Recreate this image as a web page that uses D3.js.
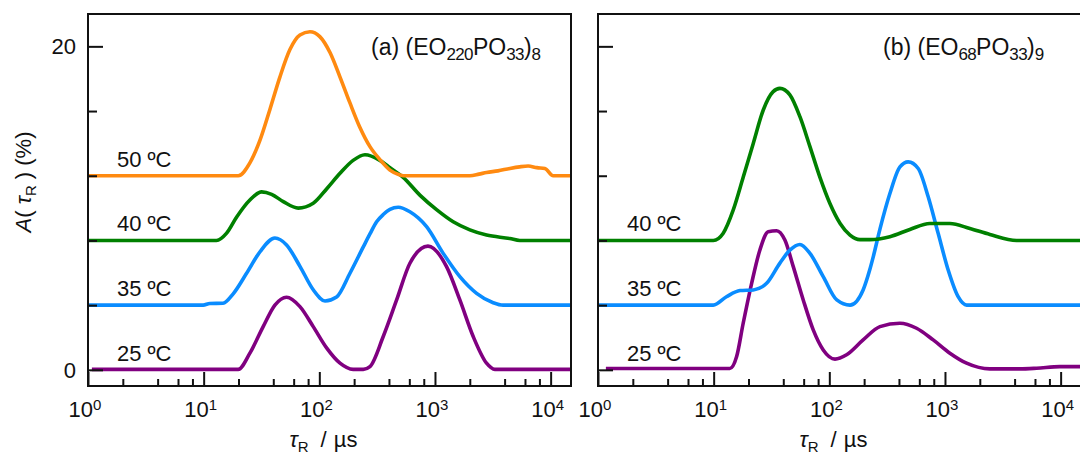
<!DOCTYPE html>
<html>
<head>
<meta charset="utf-8">
<script src="https://cdn.jsdelivr.net/npm/d3@7"></script>
<style>
  html, body { margin: 0; padding: 0; background: #fff; }
  svg { display: block; }
  text { font-family: "Liberation Sans", Arial, sans-serif; fill: #111; }
</style>
</head>
<body>
<svg id="chart" width="1080" height="456"></svg>
<script>
// Relaxation-time distributions A(τR) in %; each curve is offset by its temperature baseline.
// Points are [τR in µs, A + offset].

// Panel (a): (EO220PO33)8
const a50 = [[1,12],[19.9,12],[25.1,12.8],[30.7,14.2],[37.4,16.1],[45.6,18.1],[55.7,19.8],[68,20.7],[83,20.9],[101,20.6],[124,19.6],[151,18.1],[184,16.5],[224,15.0],[274,13.8],[334,13.0],[408,12.35],[497,12.05],[531,12],[2003,12],[2400,12.1],[2792,12.2],[3500,12.3],[4437,12.45],[5400,12.55],[6393,12.6],[7600,12.5],[8914,12.45],[10520,12],[15000,12]];
const a40 = [[1,8],[12.9,8],[15.8,8.45],[19.3,9.45],[25.1,10.5],[31.7,11.0],[38.7,10.85],[48.8,10.4],[65.7,10.0],[88.6,10.3],[116,11.2],[151,12.15],[196,12.95],[248,13.3],[334,12.95],[408,12.5],[531,11.9],[740,10.8],[1032,9.9],[1437,9.15],[2003,8.65],[2792,8.33],[4437,8.12],[5418,8],[15000,8]];
const a35 = [[1,4],[9.9,4],[11.3,4.1],[14.7,4.12],[18,4.7],[23.5,5.97],[30.7,7.3],[41.3,8.15],[52.1,7.72],[68,6.4],[88.6,4.95],[112,4.26],[141,4.5],[184,5.97],[240,7.6],[274,8.4],[313,9.15],[357,9.6],[408,9.92],[481,10.05],[607,9.77],[846,8.85],[1178,7.2],[1641,5.76],[2290,4.73],[3186,4.15],[3884,4],[15000,4]];
const a25 = [[1.08,0.03],[19.9,0.03],[25.1,1.03],[32.7,2.67],[41.3,4.0],[52.1,4.49],[68,3.91],[88.6,2.67],[116,1.34],[151,0.41],[196,0.03],[240,0.03],[274,0.2],[357,2.06],[466,4.32],[607,6.59],[870,7.65],[1259,6.38],[1641,4.32],[2140,2.06],[2792,0.41],[3296,0.03],[15000,0.03]];

// Panel (b): (EO68PO33)9
const b40 = [[1,8],[9.93,8],[12.1,8.45],[14.8,9.9],[18,11.9],[22,14.0],[26.8,16.05],[32.7,17.2],[37.4,17.4],[45.6,17.0],[55.7,15.65],[68,13.8],[83,11.9],[101,10.3],[124,9.05],[151,8.33],[184,8.05],[224,8.05],[334,8.23],[497,8.68],[740,9.05],[1103,9.05],[1641,8.74],[2444,8.37],[4159,8.0],[15000,8]];
const b35 = [[1,4],[9.93,4],[12.9,4.52],[16.9,4.9],[22,4.94],[28.7,5.35],[37.4,6.6],[45.6,7.4],[55.7,7.75],[68,7.2],[88.6,5.76],[116,4.32],[151,4.0],[196,4.94],[224,6.2],[240,7.0],[274,8.7],[334,10.9],[408,12.55],[481,12.86],[587,12.45],[716,10.7],[873,8.44],[1066,6.17],[1300,4.52],[1538,4.0],[15000,4]];
const b25 = [[1.17,0.08],[13.8,0.08],[15.8,0.82],[18,2.88],[21.3,5.35],[25.1,7.41],[29.6,8.54],[35,8.6],[41.3,8.02],[48.8,6.38],[59.5,4.32],[72.6,2.47],[88.6,1.23],[112,0.66],[141,0.93],[196,1.85],[274,2.67],[408,2.88],[568,2.57],[791,1.85],[1103,1.03],[1538,0.41],[2444,0.06],[4437,0.06],[6192,0.1],[9840,0.2],[15000,0.2]];

const temps = ["25 ºC", "35 ºC", "40 ºC", "50 ºC"];
const offsets = [0, 4, 8, 12];
const colors = {"25 ºC": "#800080", "35 ºC": "#0a8cff", "40 ºC": "#008000", "50 ºC": "#ff8a10"};

const xMajor = [1, 10, 100, 1000, 10000];
const xExp = ["0", "1", "2", "3", "4"];
const xMinor = [2,4,6,8, 20,40,60,80, 200,400,600,800, 2000,4000,6000,8000];
const yMajor = [0, 20];
const yMinor = [4, 8, 12, 16];

const panels = [
  {left: 88, title: ["(a) (EO", "220", "PO", "33", ")", "8"], titleX: 371,
   series: [["25 ºC", a25], ["35 ºC", a35], ["40 ºC", a40], ["50 ºC", a50]], yLabels: true},
  {left: 598, title: ["(b) (EO", "68", "PO", "33", ")", "9"], titleX: 883,
   series: [["25 ºC", b25], ["35 ºC", b35], ["40 ºC", b40]], yLabels: false}
];

const svg = d3.select("#chart");
const plotTop = 14, plotH = 372, plotW = 483;

const y = d3.scaleLinear().domain([-1, 22]).range([plotH, 0]);

panels.forEach((p, i) => {
  const x = d3.scaleLog().domain([1, 15000]).range([0, plotW]);
  const g = svg.append("g").attr("transform", `translate(${p.left},${plotTop})`);

  const clipId = "clip" + i;
  g.append("clipPath").attr("id", clipId).append("rect")
    .attr("x", -2).attr("y", 0).attr("width", plotW + 4).attr("height", plotH);

  // curves
  const line = d3.line()
    .x(d => x(d[0])).y(d => y(d[1]))
    .curve(d3.curveMonotoneX);
  const lines = g.append("g").attr("clip-path", `url(#${clipId})`);
  p.series.forEach(([name, pts]) => {
    lines.append("path")
      .attr("d", line(pts))
      .attr("fill", "none")
      .attr("stroke", colors[name])
      .attr("stroke-width", 3.6)
      .attr("stroke-linejoin", "round");
  });

  // temperature labels
  p.series.forEach(([name]) => {
    const off = offsets[temps.indexOf(name)];
    g.append("text")
      .attr("x", 29).attr("y", y(off) - 9)
      .attr("font-size", 22)
      .text(name);
  });

  // x axis ticks (inward)
  const xAxisMajor = d3.axisBottom(x).tickValues(xMajor).tickSize(-14).tickFormat("");
  const xAxisMinor = d3.axisBottom(x).tickValues(xMinor).tickSize(-7).tickFormat("");
  [xAxisMajor, xAxisMinor].forEach(ax => {
    const a = g.append("g").attr("transform", `translate(0,${plotH})`).call(ax);
    a.select(".domain").remove();
    a.selectAll("line").attr("stroke", "#111").attr("stroke-width", 2);
  });

  // y axis ticks (inward)
  const yAxisMajor = d3.axisLeft(y).tickValues(yMajor).tickSize(-15).tickFormat("");
  const yAxisMinor = d3.axisLeft(y).tickValues(yMinor).tickSize(-9).tickFormat("");
  [yAxisMajor, yAxisMinor].forEach(ax => {
    const a = g.append("g").call(ax);
    a.select(".domain").remove();
    a.selectAll("line").attr("stroke", "#111").attr("stroke-width", 2);
  });

  // frame
  g.append("rect")
    .attr("x", 0).attr("y", 0).attr("width", plotW).attr("height", plotH)
    .attr("fill", "none").attr("stroke", "#111").attr("stroke-width", 2);

  // x tick labels: 10^n
  xMajor.forEach((v, k) => {
    const t = g.append("text")
      .attr("x", x(v) - 3).attr("y", plotH + 31)
      .attr("text-anchor", "middle")
      .attr("font-size", 22);
    t.append("tspan").text("10");
    t.append("tspan").attr("dy", -7).attr("font-size", 15).text(xExp[k]);
  });

  // y tick labels
  if (p.yLabels) {
    yMajor.forEach(v => {
      g.append("text")
        .attr("x", -12).attr("y", y(v))
        .attr("dy", "0.36em")
        .attr("text-anchor", "end")
        .attr("font-size", 22)
        .text(v);
    });
  }

  // x axis title: τR / µs
  const xt = g.append("text")
    .attr("x", plotW / 2 - 40).attr("y", plotH + 61)
    .attr("font-size", 22);
  xt.append("tspan").attr("font-style", "italic").text("τ");
  xt.append("tspan").attr("dy", 5).attr("font-size", 15).text("R");
  xt.append("tspan").attr("dy", -5).attr("dx", 12).text("/");
  xt.append("tspan").attr("dx", 7).text("µs");

  // panel title with subscripts
  const tt = g.append("text")
    .attr("x", p.titleX - p.left).attr("y", 41)
    .attr("font-size", 23);
  p.title.forEach((s, k) => {
    const sub = k % 2 === 1;
    tt.append("tspan")
      .attr("dy", sub ? 5 : (k === 0 ? 0 : -5))
      .attr("font-size", sub ? 17 : 23)
      .attr("letter-spacing", sub ? -0.6 : 0)
      .text(s);
  });
});

// y axis title: A(τR ) (%)
const yt = svg.append("text")
  .attr("transform", "translate(31,182) rotate(-90)")
  .attr("text-anchor", "middle")
  .attr("font-size", 22);
yt.append("tspan").attr("font-style", "italic").text("A");
yt.append("tspan").text("( ");
yt.append("tspan").attr("font-style", "italic").text("τ");
yt.append("tspan").attr("dy", 5).attr("font-size", 15).text("R");
yt.append("tspan").attr("dy", -5).text(" ) (%)");
</script>
</body>
</html>
